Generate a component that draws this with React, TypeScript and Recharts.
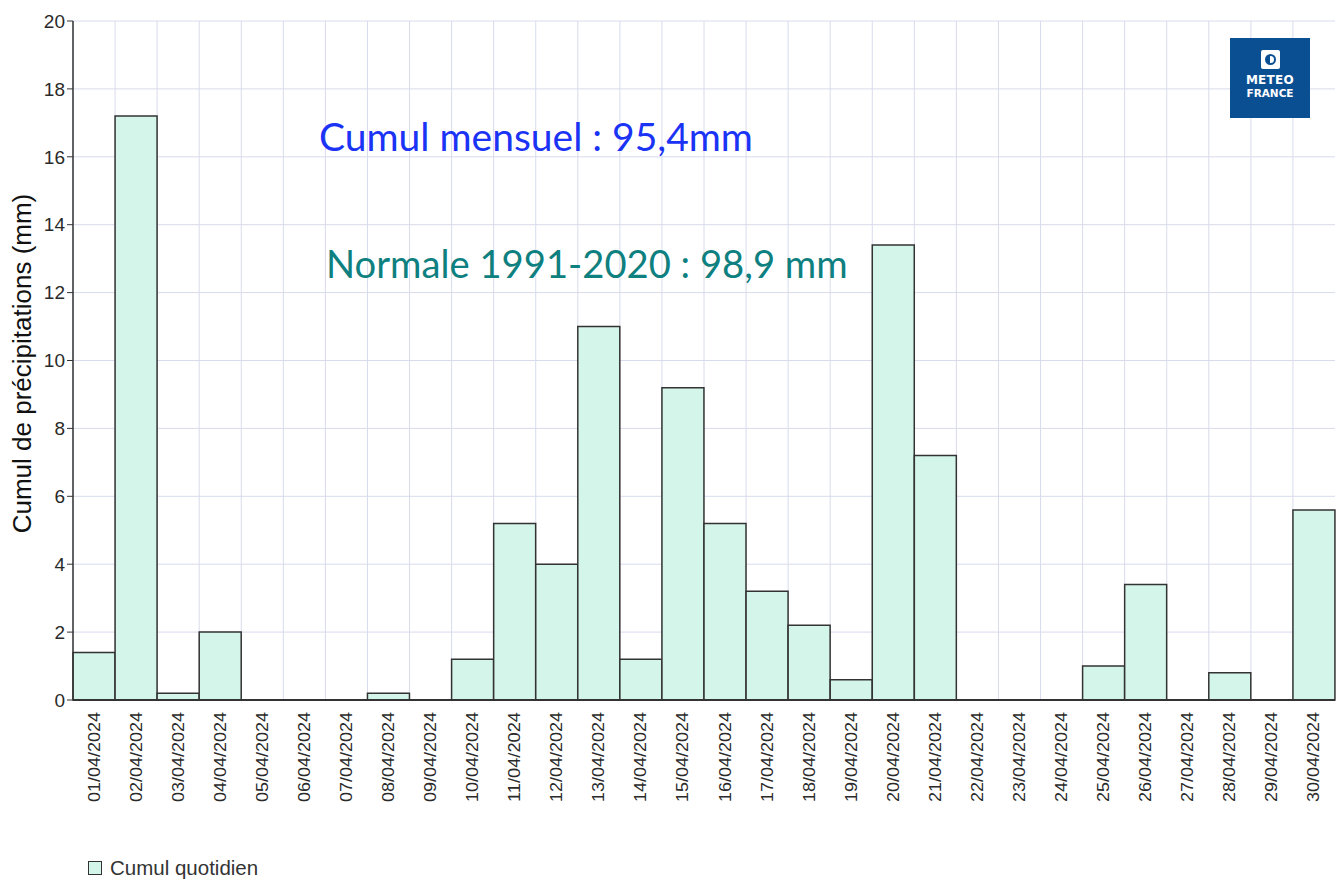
import { BarChart, Bar, XAxis, YAxis, CartesianGrid } from "recharts";

const days = [
  "01/04/2024", "02/04/2024", "03/04/2024", "04/04/2024", "05/04/2024",
  "06/04/2024", "07/04/2024", "08/04/2024", "09/04/2024", "10/04/2024",
  "11/04/2024", "12/04/2024", "13/04/2024", "14/04/2024", "15/04/2024",
  "16/04/2024", "17/04/2024", "18/04/2024", "19/04/2024", "20/04/2024",
  "21/04/2024", "22/04/2024", "23/04/2024", "24/04/2024", "25/04/2024",
  "26/04/2024", "27/04/2024", "28/04/2024", "29/04/2024", "30/04/2024",
];

const dailyRain = [
  1.4, 17.2, 0.2, 2.0, 0, 0, 0, 0.2, 0, 1.2,
  5.2, 4.0, 11.0, 1.2, 9.2, 5.2, 3.2, 2.2, 0.6, 13.4,
  7.2, 0, 0, 0, 1.0, 3.4, 0, 0.8, 0, 5.6,
];

const yTicks = [0, 2, 4, 6, 8, 10, 12, 14, 16, 18, 20];

const monthlyLabel = "Cumul mensuel : 95,4mm";
const normalLabel = "Normale 1991-2020 : 98,9 mm";
const legendLabel = "Cumul quotidien";
const yLabel = "Cumul de précipitations (mm)";

const data = days.map((d, i) => ({ day: d, rain: dailyRain[i] }));

const BAR_FILL = "#d4f6ea";
const AXIS = "#333333";
const GRID = "#d8dbec";
const FONT = "'Liberation Sans', Arial, sans-serif";

function XTick({ x, y, payload }: any) {
  return (
    <text
      x={x}
      y={y}
      transform={`rotate(-90, ${x}, ${y})`}
      textAnchor="end"
      dominantBaseline="central"
      fontSize={17}
      textLength={90}
      lengthAdjust="spacingAndGlyphs"
      fontFamily={FONT}
      fill="#2a2a2a"
    >
      {payload.value}
    </text>
  );
}

function YLabel({ viewBox }: any) {
  const cx = 22;
  const cy = viewBox.y + viewBox.height / 2 + 3;
  return (
    <text
      x={cx}
      y={cy}
      transform={`rotate(-90, ${cx}, ${cy})`}
      textAnchor="middle"
      dominantBaseline="central"
      fontSize={26}
      fontFamily={FONT}
      fill="#111"
    >
      {yLabel}
    </text>
  );
}

function Logo() {
  return (
    <div
      style={{
        position: "absolute",
        left: 1230,
        top: 38,
        width: 80,
        height: 80,
        background: "#0b4f93",
        color: "#fff",
        fontFamily: "'DejaVu Sans', sans-serif",
        fontWeight: 700,
        textAlign: "center",
      }}
    >
      <div
        style={{
          margin: "12px auto 0",
          width: 19,
          height: 19,
          background: "#fff",
          borderRadius: 2,
          display: "flex",
          alignItems: "center",
          justifyContent: "center",
        }}
      >
        <div
          style={{
            width: 11,
            height: 11,
            borderRadius: "50%",
            border: "2px solid #0b4f93",
            background: "linear-gradient(90deg, #0b4f93 50%, #fff 50%)",
            boxSizing: "border-box",
          }}
        />
      </div>
      <div style={{ fontSize: 12, lineHeight: "13px", marginTop: 5, letterSpacing: 0.3 }}>METEO</div>
      <div style={{ fontSize: 10.5, lineHeight: "12px" }}>FRANCE</div>
    </div>
  );
}

export default function App() {
  return (
    <div style={{ position: "relative", width: 1337, height: 881, background: "#fff" }}>
      <style>{`body{margin:0}`}</style>
      <BarChart
        width={1337}
        height={881}
        data={data}
        margin={{ top: 21, right: 2, bottom: 0, left: 0 }}
        barCategoryGap={0}
        barGap={0}
      >
        <CartesianGrid
          stroke={GRID}
          strokeWidth={1}
          verticalCoordinatesGenerator={({ offset }: any) =>
            days.map((_, i) => offset.left + (i * offset.width) / days.length)
          }
        />
        <XAxis
          dataKey="day"
          interval={0}
          height={181}
          tickLine={false}
          axisLine={{ stroke: AXIS, strokeWidth: 2 }}
          tick={<XTick />}
          tickMargin={6}
        />
        <XAxis
          xAxisId="top"
          orientation="top"
          dataKey="day"
          height={0}
          tick={false}
          tickLine={false}
          axisLine={{ stroke: AXIS, strokeWidth: 1.5 }}
        />
        <YAxis
          domain={[0, 20]}
          ticks={yTicks}
          interval={0}
          width={73}
          tickLine={{ stroke: AXIS }}
          tickSize={6}
          axisLine={{ stroke: AXIS, strokeWidth: 1.5 }}
          tick={{ fontSize: 19, fontFamily: FONT, fill: "#2a2a2a" }}
          label={<YLabel />}
        />
        <YAxis
          yAxisId="right"
          orientation="right"
          domain={[0, 20]}
          width={0}
          tick={false}
          tickLine={false}
          axisLine={{ stroke: AXIS, strokeWidth: 1.5 }}
        />
        <Bar
          dataKey="rain"
          fill={BAR_FILL}
          stroke={AXIS}
          strokeWidth={1.5}
          isAnimationActive={false}
        />
      </BarChart>

      <div
        style={{
          position: "absolute",
          left: 319,
          top: 113,
          fontFamily: "Lato, 'Open Sans', sans-serif",
          fontSize: 39,
          color: "#1a33f5",
          whiteSpace: "nowrap",
        }}
      >
        {monthlyLabel}
      </div>
      <div
        style={{
          position: "absolute",
          left: 326,
          top: 240,
          fontFamily: "Lato, 'Open Sans', sans-serif",
          fontSize: 38.2,
          color: "#0e8080",
          whiteSpace: "nowrap",
        }}
      >
        {normalLabel}
      </div>

      <Logo />

      <div
        style={{
          position: "absolute",
          left: 88,
          top: 856,
          display: "flex",
          alignItems: "center",
          fontFamily: FONT,
          fontSize: 20.5,
          color: "#333",
        }}
      >
        <span
          style={{
            display: "inline-block",
            width: 14,
            height: 14,
            background: BAR_FILL,
            border: `1.5px solid ${AXIS}`,
            boxSizing: "border-box",
            marginRight: 8,
          }}
        />
        {legendLabel}
      </div>
    </div>
  );
}
